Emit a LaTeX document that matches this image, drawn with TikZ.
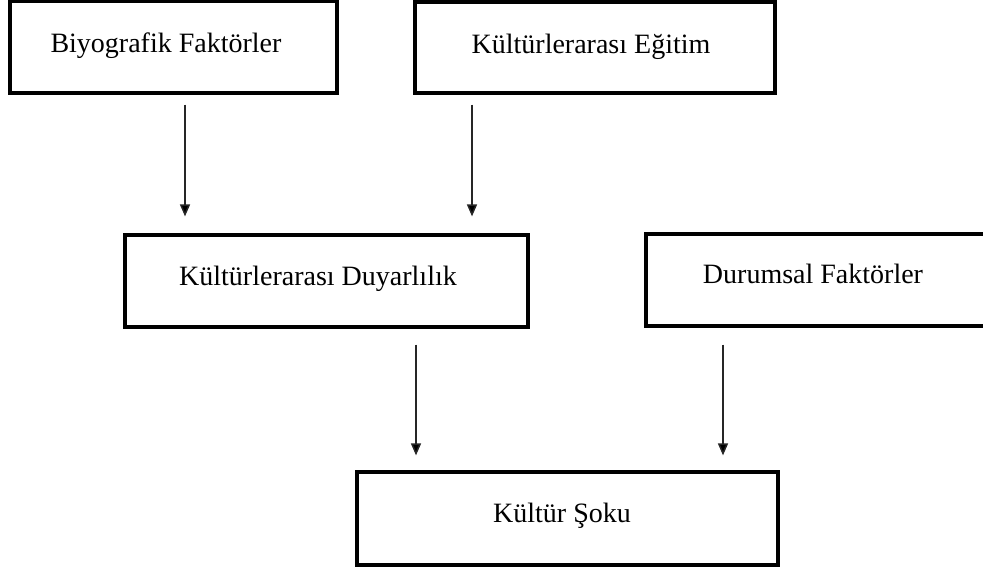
\documentclass[tikz,border=0pt]{standalone}
\usepackage{fontspec}
\setmainfont{Liberation Serif}
\usetikzlibrary{arrows.meta,calc}
\tikzset{
  box/.style={draw=black, line width=3.2pt, rectangle, inner sep=0pt,
    font=\fontsize{28}{30}\selectfont, text depth=8pt},
  arr/.style={draw=black!85, line width=1.5pt,
    -{Triangle[width=10pt,length=12pt,fill=black]}}
}
\begin{document}
\begin{tikzpicture}[x=1pt,y=-1pt]
  \useasboundingbox (0,0) rectangle (983,571);
  \clip (0,0) rectangle (983,571);
  % boxes (trailing space nudges each label a little to the left)
  \node[box, minimum width=327pt, minimum height=92pt, text height=18pt]
    (bio) at (173.5,47) {Biyografik Faktörler\hspace*{15pt}};
  \node[box, minimum width=360pt, minimum height=91pt, text height=19pt]
    (egitim) at (595,47.5) {Kültürlerarası Eğitim\hspace*{8pt}};
  \node[box, minimum width=403pt, minimum height=92pt, text height=16pt]
    (duyar) at (326.5,281) {Kültürlerarası Duyarlılık\hspace*{17pt}};
  \node[box, minimum width=340pt, minimum height=92pt, text height=14pt]
    (durum) at (816,280) {Durumsal Faktörler\hspace*{6pt}};
  \node[box, minimum width=421pt, minimum height=93pt, text height=15pt]
    (sok) at (567.5,518.5) {Kültür Şoku\hspace*{11pt}};
  % arrows
  \draw[arr] ($(bio.south)+(11.5,10)$) -- ($(duyar.north)+(-141.5,-17)$);
  \draw[arr] ($(egitim.south)+(-123,10)$) -- ($(duyar.north)+(145.5,-17)$);
  \draw[arr] ($(duyar.south)+(89.5,16)$) -- ($(sok.north)+(-151.5,-15)$);
  \draw[arr] ($(durum.south)+(-93,17)$) -- ($(sok.north)+(155.5,-15)$);
\end{tikzpicture}
\end{document}
